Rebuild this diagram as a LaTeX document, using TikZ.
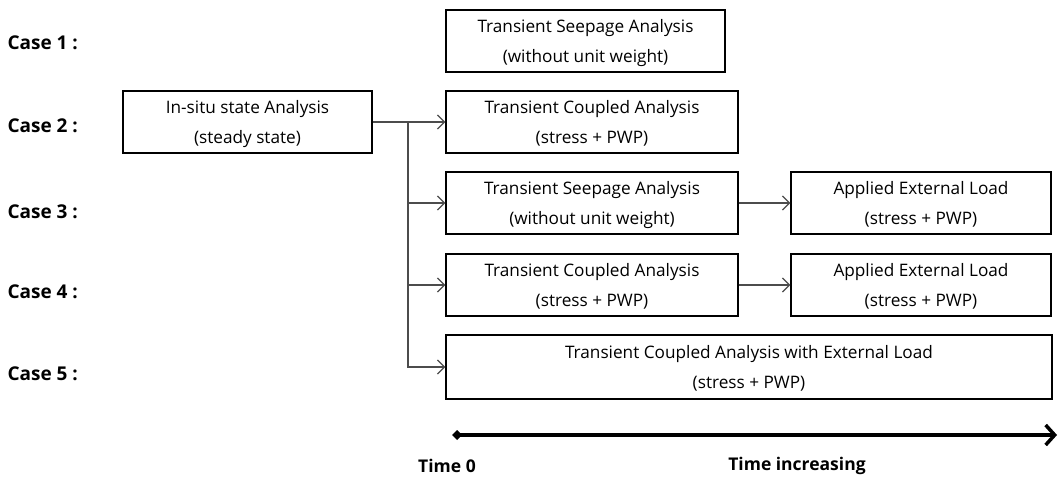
\documentclass[tikz,border=0pt]{standalone}
\usepackage{fontspec}
\setmainfont{Open Sans}
\usetikzlibrary{arrows.meta}

\tikzset{
    stagebox/.style={draw=black, line width=1.3pt, align=center, inner sep=0pt,
        minimum height=62pt, text depth=-1pt, font=\fontsize{17.2}{30}\selectfont},
    caselabel/.style={anchor=west, font=\fontsize{19}{20}\selectfont\bfseries},
    timelabel/.style={font=\fontsize{17.5}{20}\selectfont\bfseries},
    flow/.style={draw=black!70, line width=1.3pt, -{Straight Barb[length=7pt,width=14pt,line width=1.3pt]}},
}

\begin{document}
\begin{tikzpicture}[x=1pt, y=-1pt]
    \useasboundingbox (0,0) rectangle (1058,484);

    % Case labels
    \node[caselabel] (case1) at (4,43) {Case 1 :};
    \node[caselabel] (case2) at (4,126) {Case 2 :};
    \node[caselabel] (case3) at (4,212) {Case 3 :};
    \node[caselabel] (case4) at (4,292) {Case 4 :};
    \node[caselabel] (case5) at (4,374) {Case 5 :};

    % Initial stage
    \node[stagebox, minimum width=249pt] (insitu) at (247.5,122) {In-situ state Analysis\\(steady state)};

    % Case 1
    \node[stagebox, minimum width=279pt] (seep1) at (585.5,41) {Transient Seepage Analysis\\(without unit weight)};

    % Case 2
    \node[stagebox, minimum width=292pt] (coup2) at (592,122) {Transient Coupled Analysis\\(stress + PWP)};

    % Case 3
    \node[stagebox, minimum width=292pt] (seep3) at (592,203) {Transient Seepage Analysis\\(without unit weight)};
    \node[stagebox, minimum width=260pt] (load3) at (921,203) {Applied External Load\\(stress + PWP)};

    % Case 4
    \node[stagebox, minimum width=292pt] (coup4) at (592,285) {Transient Coupled Analysis\\(stress + PWP)};
    \node[stagebox, minimum width=260pt] (load4) at (921,285) {Applied External Load\\(stress + PWP)};

    % Case 5
    \node[stagebox, minimum width=606pt, minimum height=64pt] (coup5) at (749,367) {Transient Coupled Analysis with External Load\\(stress + PWP)};

    % Connectors
    \coordinate (trunk) at (408,122);
    \draw[flow] (insitu.east) -- (coup2.west);
    \foreach \stage in {seep3, coup4, coup5}
        \draw[flow] (trunk) |- (\stage.west);
    \draw[flow] (seep3.east) -- (load3.west);
    \draw[flow] (coup4.east) -- (load4.west);

    % Time axis
    \coordinate (tstart) at (452,435);
    \coordinate (tend) at (1057,435);
    \draw[line width=3.5pt, {Diamond[length=10pt,width=10pt]}-{Straight Barb[length=9pt,width=20pt,line width=3.5pt]}] (tstart) -- (tend);
    \node[timelabel] (time0) at (447,466) {Time 0};
    \node[timelabel] (timeinc) at (797,466) {Time increasing};
\end{tikzpicture}
\end{document}
